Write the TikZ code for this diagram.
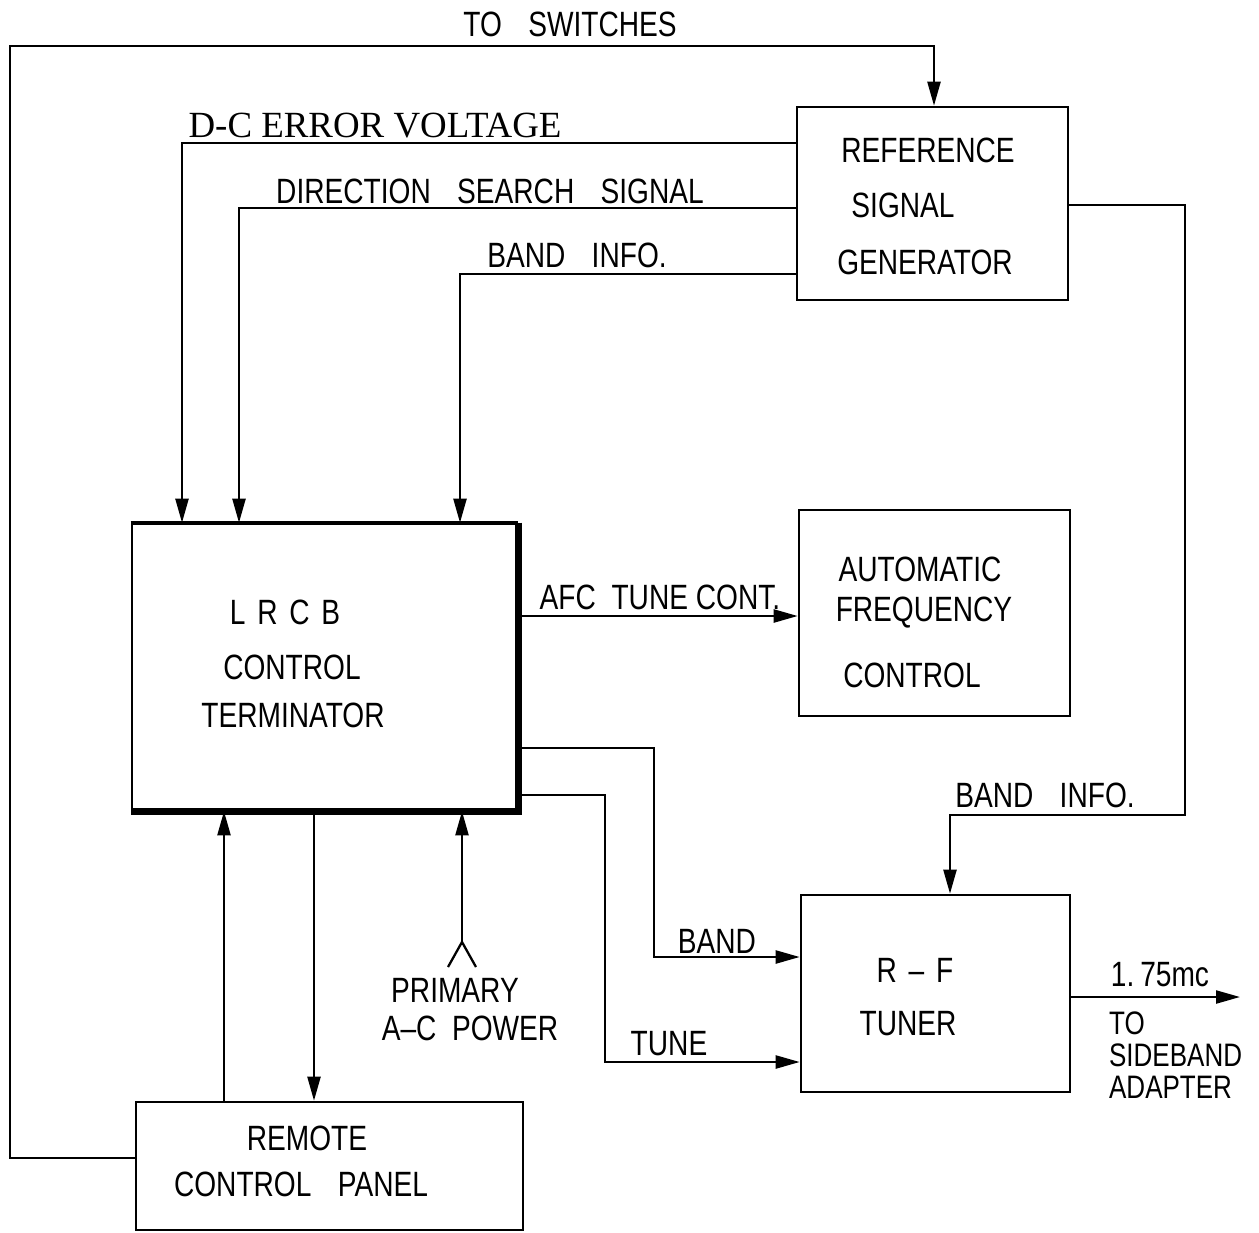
\documentclass[tikz,border=0pt]{standalone}
\usepackage{fontspec}
\setmainfont{Liberation Sans}[FakeStretch=0.8]
\newfontfamily\serifface{Liberation Serif}
\usetikzlibrary{arrows.meta}
\newcommand{\wsp}{\hspace{0.75em}}
\begin{document}
\begin{tikzpicture}[x=0.02cm,y=-0.02cm,
  line width=1.3pt,
  box/.style={draw,line width=1.5pt,rectangle,inner sep=0pt,align=center},
  arr/.style={-{Triangle[length=0.48cm,width=0.26cm]}},
  lbl/.style={font=\fontsize{20}{22}\selectfont,inner sep=0pt},
  slbl/.style={font=\serifface\fontsize{21}{22}\selectfont,inner sep=0pt},
  sblbl/.style={font=\fontsize{18.5}{20}\selectfont,inner sep=0pt,anchor=base west}]
\useasboundingbox (0,0) rectangle (1259,1232);
% boxes
\node[box,minimum width=5.42cm,minimum height=3.86cm] (rsg) at (932.5,203.5) {};
\node[box,minimum width=5.42cm,minimum height=4.12cm] (afc) at (934.5,613) {};
\node[box,minimum width=7.7cm,minimum height=5.72cm] (lrcb) at (324.5,667) {};
\node[box,minimum width=5.38cm,minimum height=3.94cm] (rf) at (935.5,993.5) {};
\node[box,minimum width=7.74cm,minimum height=2.56cm] (rcp) at (329.5,1166) {};
% heavy shadow edges of LRCB
\draw[line width=4pt,line join=miter] (lrcb.north east) -- (lrcb.south east) -- (lrcb.south west);
\draw[line width=2.5pt] (lrcb.north west) -- (lrcb.north east);
% box texts
\node[lbl] (t1) at (928,150) {REFERENCE};
\node[lbl] (t2) at (903,205) {SIGNAL};
\node[lbl] (t3) at (925,262) {GENERATOR};
\node[lbl] (t4) at (920,569) {AUTOMATIC};
\node[lbl] (t5) at (924,613) {FREQUENCY};
\node[lbl] (t6) at (912,675) {CONTROL};
\node[lbl] (t7) at (285,612) {L\,\,R\,\,C\,\,B};
\node[lbl] (t8) at (292,667) {CONTROL};
\node[lbl] (t9) at (293,715) {TERMINATOR};
\node[lbl] (t10) at (915,970) {R\,\,--\,\,F};
\node[lbl] (t11) at (908,1024) {TUNER};
\node[lbl] (t12) at (307,1138) {REMOTE};
\node[lbl] (t13) at (301,1184) {CONTROL\wsp PANEL};
% connectors
\draw[arr] (rcp.west |- 0,1158) -| (10,46) -| (rsg.north -| 934,0);
\node[lbl] (l1) at (570,24) {TO\wsp SWITCHES};
\draw[arr] (rsg.west |- 0,143) -| (lrcb.north -| 182,0);
\node[slbl] (l2) at (375,126) {D-C ERROR VOLTAGE};
\draw[arr] (rsg.west |- 0,208) -| (lrcb.north -| 239,0);
\node[lbl] (l3) at (490,191) {DIRECTION\wsp SEARCH\wsp SIGNAL};
\draw[arr] (rsg.west |- 0,274) -| (lrcb.north -| 460,0);
\node[lbl] (l4) at (577,255) {BAND\wsp INFO.};
\draw[arr] (rsg.east |- 0,205) -| (1185,815) -| (rf.north -| 950,0);
\node[lbl] (l5) at (1045,795) {BAND\wsp INFO.};
\draw[arr] (lrcb.east |- 0,616) -- (afc.west |- 0,616);
\node[lbl] (l6) at (660,597) {AFC\ \ TUNE\ CONT.};
\draw[arr] (lrcb.east |- 0,748) -| (654,957) -- (rf.west |- 0,957);
\node[lbl] (l7) at (717,941) {BAND};
\draw[arr] (lrcb.east |- 0,795) -| (605,1062) -- (rf.west |- 0,1062);
\node[lbl] (l8) at (669,1044) {TUNE};
\coordinate (out) at (1240,997);
\draw[arr] (rf.east |- out) -- (out);
\node[lbl] (l9) at (1160,975) {1.\,75mc};
\node[sblbl] (l10) at (1108,1034) {TO};
\node[sblbl] (l10b) at (1108,1066) {SIDEBAND};
\node[sblbl] (l10c) at (1108,1098) {ADAPTER};
\draw[arr] (rcp.north -| 224,0) -- (lrcb.south -| 224,0);
\draw[arr] (lrcb.south -| 314,0) -- (rcp.north -| 314,0);
\coordinate (pwr) at (462,942);
\draw[arr] (pwr) -- (lrcb.south -| pwr);
\draw (448,967) -- (pwr) -- (476,967);
\node[lbl] (l11) at (455,990) {PRIMARY};
\node[lbl] (l12) at (470,1028) {A--C\ \ POWER};
\end{tikzpicture}
\end{document}
